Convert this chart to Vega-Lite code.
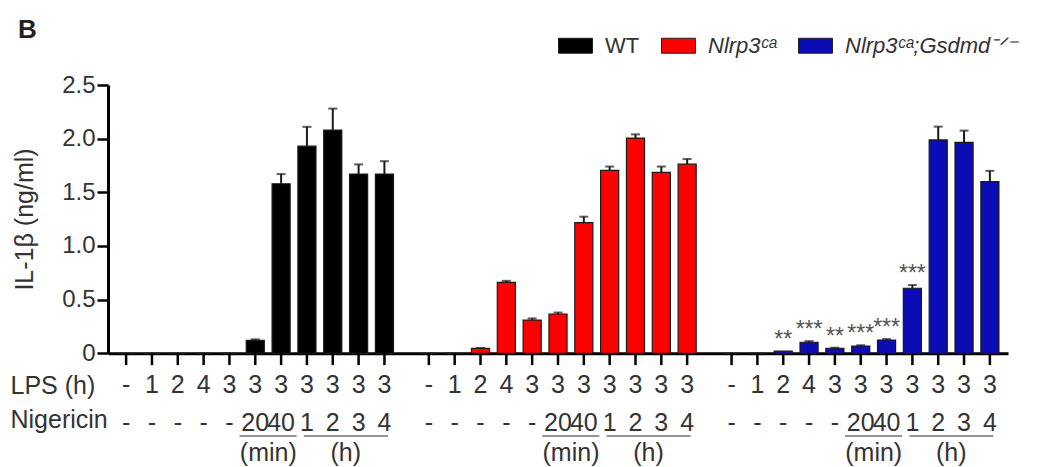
{
  "$schema": "https://vega.github.io/schema/vega-lite/v6.json",
  "width": 900,
  "height": 268.3,
  "autosize": "none",
  "padding": {"left": 108, "top": 85, "right": 32, "bottom": 113.7},
  "config": {"view": {"stroke": null}, "font": "Liberation Sans"},
  "title": {"text": "B", "anchor": "start", "frame": "group", "fontSize": 26, "fontWeight": "bold", "color": "#222", "dx": -90, "dy": 33, "offset": 18},
  "datasets": {
    "bars": [
      {"genotype": "WT", "cond": "L0-N0", "lps": "-", "nig": "-", "v": 0, "hi": 0, "sig": ""},
      {"genotype": "WT", "cond": "L1-N0", "lps": "1", "nig": "-", "v": 0, "hi": 0, "sig": ""},
      {"genotype": "WT", "cond": "L2-N0", "lps": "2", "nig": "-", "v": 0, "hi": 0, "sig": ""},
      {"genotype": "WT", "cond": "L4-N0", "lps": "4", "nig": "-", "v": 0, "hi": 0, "sig": ""},
      {"genotype": "WT", "cond": "L3-N0", "lps": "3", "nig": "-", "v": 0, "hi": 0, "sig": ""},
      {"genotype": "WT", "cond": "L3-N20m", "lps": "3", "nig": "20", "v": 0.12, "hi": 0.13, "sig": ""},
      {"genotype": "WT", "cond": "L3-N40m", "lps": "3", "nig": "40", "v": 1.58, "hi": 1.67, "sig": ""},
      {"genotype": "WT", "cond": "L3-N1h", "lps": "3", "nig": "1", "v": 1.93, "hi": 2.11, "sig": ""},
      {"genotype": "WT", "cond": "L3-N2h", "lps": "3", "nig": "2", "v": 2.08, "hi": 2.28, "sig": ""},
      {"genotype": "WT", "cond": "L3-N3h", "lps": "3", "nig": "3", "v": 1.67, "hi": 1.76, "sig": ""},
      {"genotype": "WT", "cond": "L3-N4h", "lps": "3", "nig": "4", "v": 1.67, "hi": 1.79, "sig": ""},
      {"genotype": "Nlrp3ᶜᵃ", "cond": "L0-N0", "lps": "-", "nig": "-", "v": 0, "hi": 0, "sig": ""},
      {"genotype": "Nlrp3ᶜᵃ", "cond": "L1-N0", "lps": "1", "nig": "-", "v": 0, "hi": 0, "sig": ""},
      {"genotype": "Nlrp3ᶜᵃ", "cond": "L2-N0", "lps": "2", "nig": "-", "v": 0.045, "hi": 0.05, "sig": ""},
      {"genotype": "Nlrp3ᶜᵃ", "cond": "L4-N0", "lps": "4", "nig": "-", "v": 0.66, "hi": 0.675, "sig": ""},
      {"genotype": "Nlrp3ᶜᵃ", "cond": "L3-N0", "lps": "3", "nig": "-", "v": 0.31, "hi": 0.325, "sig": ""},
      {"genotype": "Nlrp3ᶜᵃ", "cond": "L3-N20m", "lps": "3", "nig": "20", "v": 0.366, "hi": 0.38, "sig": ""},
      {"genotype": "Nlrp3ᶜᵃ", "cond": "L3-N40m", "lps": "3", "nig": "40", "v": 1.217, "hi": 1.273, "sig": ""},
      {"genotype": "Nlrp3ᶜᵃ", "cond": "L3-N1h", "lps": "3", "nig": "1", "v": 1.705, "hi": 1.74, "sig": ""},
      {"genotype": "Nlrp3ᶜᵃ", "cond": "L3-N2h", "lps": "3", "nig": "2", "v": 2.005, "hi": 2.04, "sig": ""},
      {"genotype": "Nlrp3ᶜᵃ", "cond": "L3-N3h", "lps": "3", "nig": "3", "v": 1.685, "hi": 1.74, "sig": ""},
      {"genotype": "Nlrp3ᶜᵃ", "cond": "L3-N4h", "lps": "3", "nig": "4", "v": 1.762, "hi": 1.81, "sig": ""},
      {"genotype": "Nlrp3ᶜᵃ;Gsdmd⁻ᐟ⁻", "cond": "L0-N0", "lps": "-", "nig": "-", "v": 0, "hi": 0, "sig": ""},
      {"genotype": "Nlrp3ᶜᵃ;Gsdmd⁻ᐟ⁻", "cond": "L1-N0", "lps": "1", "nig": "-", "v": 0, "hi": 0, "sig": ""},
      {"genotype": "Nlrp3ᶜᵃ;Gsdmd⁻ᐟ⁻", "cond": "L2-N0", "lps": "2", "nig": "-", "v": 0.02, "hi": 0.02, "sig": "**"},
      {"genotype": "Nlrp3ᶜᵃ;Gsdmd⁻ᐟ⁻", "cond": "L4-N0", "lps": "4", "nig": "-", "v": 0.103, "hi": 0.113, "sig": "***"},
      {"genotype": "Nlrp3ᶜᵃ;Gsdmd⁻ᐟ⁻", "cond": "L3-N0", "lps": "3", "nig": "-", "v": 0.047, "hi": 0.052, "sig": "**"},
      {"genotype": "Nlrp3ᶜᵃ;Gsdmd⁻ᐟ⁻", "cond": "L3-N20m", "lps": "3", "nig": "20", "v": 0.068, "hi": 0.075, "sig": "***"},
      {"genotype": "Nlrp3ᶜᵃ;Gsdmd⁻ᐟ⁻", "cond": "L3-N40m", "lps": "3", "nig": "40", "v": 0.124, "hi": 0.132, "sig": "***"},
      {"genotype": "Nlrp3ᶜᵃ;Gsdmd⁻ᐟ⁻", "cond": "L3-N1h", "lps": "3", "nig": "1", "v": 0.606, "hi": 0.636, "sig": "***"},
      {"genotype": "Nlrp3ᶜᵃ;Gsdmd⁻ᐟ⁻", "cond": "L3-N2h", "lps": "3", "nig": "2", "v": 1.988, "hi": 2.112, "sig": ""},
      {"genotype": "Nlrp3ᶜᵃ;Gsdmd⁻ᐟ⁻", "cond": "L3-N3h", "lps": "3", "nig": "3", "v": 1.966, "hi": 2.075, "sig": ""},
      {"genotype": "Nlrp3ᶜᵃ;Gsdmd⁻ᐟ⁻", "cond": "L3-N4h", "lps": "3", "nig": "4", "v": 1.6, "hi": 1.7, "sig": ""}
    ],
    "units": [
      {"genotype": "WT", "cond": "L3-N20m", "unit": "(min)"},
      {"genotype": "WT", "cond": "L3-N2h", "unit": "(h)"},
      {"genotype": "Nlrp3ᶜᵃ", "cond": "L3-N20m", "unit": "(min)"},
      {"genotype": "Nlrp3ᶜᵃ", "cond": "L3-N2h", "unit": "(h)"},
      {"genotype": "Nlrp3ᶜᵃ;Gsdmd⁻ᐟ⁻", "cond": "L3-N20m", "unit": "(min)"},
      {"genotype": "Nlrp3ᶜᵃ;Gsdmd⁻ᐟ⁻", "cond": "L3-N2h", "unit": "(h)"}
    ]
  },
  "encoding": {
    "x": {
      "field": "genotype", "type": "nominal",
      "scale": {"domain": ["WT", "Nlrp3ᶜᵃ", "Nlrp3ᶜᵃ;Gsdmd⁻ᐟ⁻"], "paddingInner": 0.087, "paddingOuter": 0.03},
      "axis": {
        "domain": true, "domainWidth": 3, "domainColor": "#000", "ticks": false, "labels": false, "grid": false,
        "title": ["LPS (h)", "Nigericin"], "titleFontSize": 25, "titleFontWeight": "normal", "titleColor": "#333",
        "titleAlign": "left", "titleAnchor": "start", "titleX": -98, "titleY": 40, "titleBaseline": "alphabetic", "titleLineHeight": 34, "titleAngle": 0
      }
    }
  },
  "layer": [
    {
      "data": {"name": "bars"},
      "mark": {"type": "bar", "stroke": "#1a1a1a", "strokeWidth": 1.2},
      "encoding": {
        "xOffset": {
          "field": "cond", "type": "nominal",
          "scale": {"domain": ["L0-N0", "L1-N0", "L2-N0", "L4-N0", "L3-N0", "L3-N20m", "L3-N40m", "L3-N1h", "L3-N2h", "L3-N3h", "L3-N4h"], "paddingInner": 0.3, "paddingOuter": 0}
        },
        "y": {
          "field": "v", "type": "quantitative",
          "scale": {"domain": [0, 2.5], "nice": false, "zero": true},
          "axis": {
            "values": [0, 0.5, 1, 1.5, 2, 2.5],
            "labelExpr": "datum.value == 0 ? '0' : format(datum.value, '.1f')",
            "labelFontSize": 24, "labelColor": "#333", "labelPadding": 2,
            "tickSize": 11, "tickWidth": 2.5, "tickColor": "#000",
            "domainColor": "#000", "domainWidth": 3, "grid": false,
            "title": "IL-1β (ng/ml)", "titleFontSize": 25, "titleFontWeight": "normal", "titleColor": "#333",
            "titleX": -76, "titleY": 134, "titleBaseline": "alphabetic", "titleAngle": -90, "titleAlign": "center"
          }
        },
        "color": {
          "field": "genotype", "type": "nominal",
          "scale": {"domain": ["WT", "Nlrp3ᶜᵃ", "Nlrp3ᶜᵃ;Gsdmd⁻ᐟ⁻"], "range": ["#000000", "#ff0000", "#0c0cb4"]},
          "legend": {
            "orient": "none", "legendX": 450, "legendY": -57, "direction": "horizontal", "title": null,
            "symbolType": "M-1,-0.44H1V0.44H-1Z", "symbolSize": 1156, "symbolStrokeColor": "#222", "symbolStrokeWidth": 1,
            "labelFontSize": 22, "labelColor": "#333", "labelOffset": 12, "columnPadding": 19, "padding": 0, "labelLimit": 0,
            "encode": {"labels": {"update": {"fontStyle": {"signal": "datum.label == 'WT' ? 'normal' : 'italic'"}}}}
          }
        }
      }
    },
    {
      "data": {"name": "bars"},
      "transform": [{"filter": "datum.hi > datum.v"}],
      "mark": {"type": "rule", "color": "#1a1a1a", "strokeWidth": 2},
      "encoding": {
        "xOffset": {"field": "cond", "type": "nominal"},
        "y": {"field": "v", "type": "quantitative"},
        "y2": {"field": "hi"}
      }
    },
    {
      "data": {"name": "bars"},
      "transform": [{"filter": "datum.hi > datum.v"}],
      "mark": {"type": "tick", "orient": "horizontal", "color": "#1a1a1a", "size": 9, "thickness": 2},
      "encoding": {
        "xOffset": {"field": "cond", "type": "nominal"},
        "y": {"field": "hi", "type": "quantitative"}
      }
    },
    {
      "data": {"name": "bars"},
      "mark": {"type": "rule", "color": "#000", "strokeWidth": 2.5},
      "encoding": {
        "xOffset": {"field": "cond", "type": "nominal"},
        "y": {"datum": 0, "type": "quantitative"},
        "y2": {"datum": -0.11}
      }
    },
    {
      "data": {"name": "bars"},
      "mark": {"type": "text", "fontSize": 25, "color": "#333", "baseline": "alphabetic"},
      "encoding": {
        "xOffset": {"field": "cond", "type": "nominal"},
        "y": {"datum": -0.373, "type": "quantitative"},
        "text": {"field": "lps"}
      }
    },
    {
      "data": {"name": "bars"},
      "mark": {"type": "text", "fontSize": 25, "color": "#333", "baseline": "alphabetic"},
      "encoding": {
        "xOffset": {"field": "cond", "type": "nominal"},
        "y": {"datum": -0.721, "type": "quantitative"},
        "text": {"field": "nig"}
      }
    },
    {
      "data": {"name": "bars"},
      "transform": [{"filter": "datum.sig != ''"}],
      "mark": {"type": "text", "fontSize": 23, "color": "#555", "baseline": "middle", "dy": -11},
      "encoding": {
        "xOffset": {"field": "cond", "type": "nominal"},
        "y": {"field": "hi", "type": "quantitative"},
        "text": {"field": "sig"}
      }
    },
    {
      "data": {"name": "units"},
      "transform": [{"filter": "datum.unit == '(min)'"}],
      "mark": {"type": "tick", "orient": "horizontal", "color": "#333", "size": 57, "thickness": 1.5, "xOffset": 12.8},
      "encoding": {
        "y": {"datum": -0.77, "type": "quantitative"}
      }
    },
    {
      "data": {"name": "units"},
      "transform": [{"filter": "datum.unit == '(h)'"}],
      "mark": {"type": "tick", "orient": "horizontal", "color": "#333", "size": 84, "thickness": 1.5, "xOffset": 90.6},
      "encoding": {
        "y": {"datum": -0.77, "type": "quantitative"}
      }
    },
    {
      "data": {"name": "units"},
      "mark": {"type": "text", "fontSize": 25, "color": "#333", "baseline": "alphabetic", "dx": 13},
      "encoding": {
        "xOffset": {"field": "cond", "type": "nominal"},
        "y": {"datum": -1.004, "type": "quantitative"},
        "text": {"field": "unit"}
      }
    }
  ]
}
